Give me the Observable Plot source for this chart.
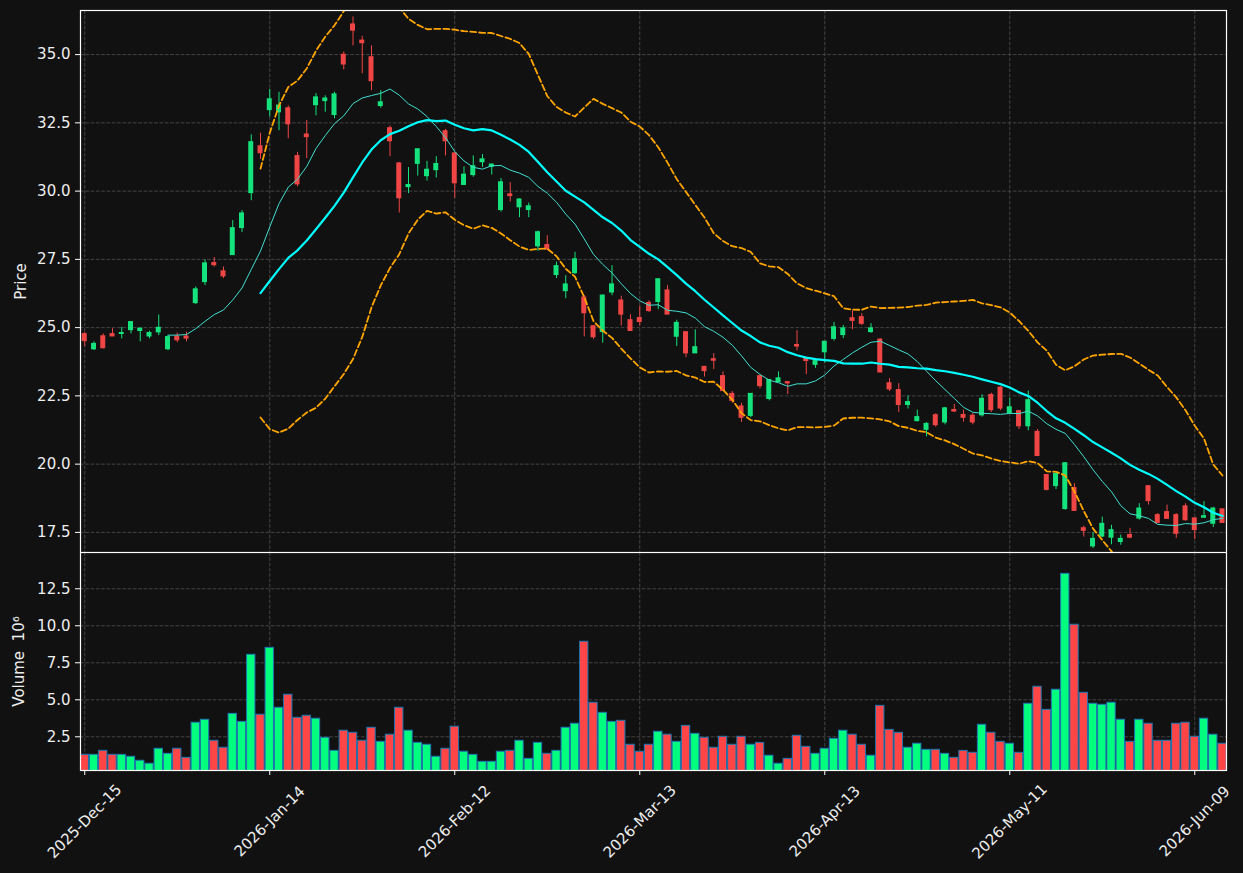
<!DOCTYPE html>
<html><head><meta charset="utf-8">
<script src="https://cdn.jsdelivr.net/npm/d3@7"></script>
<script src="https://cdn.jsdelivr.net/npm/@observablehq/plot@0.6"></script>
<style>
html,body{margin:0;padding:0;background:#111111;}
#chart{width:1243px;height:873px;background:#111111;overflow:hidden;}
#chart svg{display:block;}
</style></head><body><div id="chart"></div>
<script>
// Daily OHLC (trading-day index 0..123), volume in millions
const opens = [24.76,24.21,24.68,24.76,24.77,24.91,24.88,24.68,24.83,24.21,24.67,24.67,25.90,26.67,27.36,27.06,27.66,28.65,29.93,31.64,
32.97,32.89,33.03,31.28,32.07,33.15,33.30,32.79,34.99,36.10,35.51,34.90,33.12,32.30,31.01,30.15,31.00,30.55,30.77,32.19,
31.38,30.23,30.59,31.06,30.89,29.31,29.88,29.41,29.31,27.98,28.02,26.93,26.34,27.00,26.10,25.05,24.84,26.29,25.99,25.27,
25.35,25.90,25.94,26.36,24.67,24.83,24.06,23.56,23.84,23.22,22.57,22.11,21.77,23.22,22.39,23.00,23.00,24.36,23.87,23.64,
24.10,24.59,24.73,25.34,25.38,24.84,24.56,22.96,22.71,22.17,21.58,21.26,21.79,21.53,21.98,21.80,21.77,21.79,22.53,22.80,
21.87,21.94,21.39,21.18,19.60,19.20,18.36,19.12,17.65,16.99,17.35,17.31,17.15,17.40,18.01,19.19,18.13,18.24,18.13,18.45,
18.01,18.04,17.82,18.34];
const highs = [24.82,24.48,24.77,24.96,25.01,25.21,24.97,24.87,25.46,24.71,24.80,24.83,26.49,27.48,27.57,27.22,28.92,29.29,32.06,32.12,
33.73,33.62,33.12,31.42,32.59,33.57,33.49,33.62,35.10,36.38,35.67,35.32,33.68,32.39,31.05,30.86,31.53,31.09,31.26,32.26,
31.40,30.89,31.29,31.34,30.99,30.46,30.31,29.72,29.56,28.54,28.37,27.40,26.90,27.76,26.17,25.08,26.20,27.27,26.15,25.47,
25.79,25.98,26.77,26.54,25.27,24.85,24.92,23.58,24.05,23.38,22.66,22.23,22.57,23.24,23.08,23.38,23.03,24.89,23.89,23.83,
24.48,25.19,25.08,25.61,25.51,25.15,24.59,23.13,22.95,22.50,21.98,21.52,21.85,22.08,22.19,21.98,21.85,22.54,22.60,22.83,
22.41,21.96,22.68,21.27,19.62,19.64,20.06,19.29,17.73,17.50,18.06,17.76,17.40,17.65,18.55,19.21,18.19,18.50,18.19,18.55,
18.03,18.63,18.42,18.36];
const lows = [24.31,24.16,24.22,24.67,24.59,24.77,24.48,24.59,24.71,24.16,24.45,24.48,25.85,26.54,27.22,26.80,27.66,28.48,29.65,31.16,
32.72,32.21,31.92,30.16,31.19,32.76,32.89,32.65,34.44,35.32,34.30,33.68,33.04,31.26,29.20,29.91,30.55,30.37,30.48,31.29,
29.74,30.20,30.51,30.87,30.59,29.23,29.60,29.03,29.03,27.79,27.84,26.80,26.06,26.94,24.66,24.57,24.43,26.17,25.06,24.88,
25.07,25.56,25.66,25.48,24.31,23.90,24.06,23.19,23.46,22.68,22.23,21.53,21.70,22.76,22.32,23.00,22.55,24.15,23.28,23.51,
23.70,24.51,24.60,24.92,25.08,24.79,23.36,22.66,21.89,22.02,21.54,21.00,21.35,21.44,21.89,21.54,21.44,21.72,21.89,21.96,
21.87,21.27,21.22,20.30,19.02,19.07,18.31,18.29,17.33,16.91,17.31,17.05,17.03,17.27,17.95,18.50,17.85,18.00,17.28,17.91,
17.24,18.04,17.68,17.85];
const closes = [24.51,24.40,24.25,24.68,24.80,25.20,24.96,24.80,24.99,24.65,24.54,24.60,26.40,27.35,27.29,26.88,28.64,29.18,31.79,31.39,
33.36,33.13,32.45,30.25,31.98,33.43,33.39,33.54,34.64,35.88,35.42,34.03,33.25,31.83,29.74,30.22,31.53,30.78,30.99,31.83,
30.29,30.60,30.91,31.16,30.97,30.32,29.82,29.69,29.44,28.49,27.86,27.25,26.58,27.50,25.53,24.65,26.17,26.58,25.48,24.88,
25.21,25.61,26.77,25.48,25.17,24.06,24.28,23.41,23.79,22.68,22.32,21.70,22.57,22.86,23.08,23.14,22.96,24.31,23.78,23.77,
24.48,25.01,24.97,25.25,25.14,24.97,23.36,22.74,22.17,22.27,21.72,21.47,21.43,22.04,21.93,21.70,21.53,22.39,21.98,22.04,
22.08,21.39,22.34,20.30,19.06,19.64,20.03,18.29,17.56,17.26,17.81,17.58,17.26,17.31,18.37,18.65,17.85,18.00,17.45,17.95,
17.59,18.09,18.37,17.85];
const volumes = [1.28,1.28,1.55,1.28,1.28,1.15,0.88,0.68,1.69,1.35,1.69,1.08,3.45,3.65,2.23,1.76,4.05,3.51,8.04,3.99,
8.51,4.46,5.34,3.78,3.92,3.72,2.43,1.55,2.91,2.77,2.23,3.11,2.16,2.64,4.46,2.91,2.09,1.96,1.15,1.69,
3.18,1.49,1.28,0.81,0.81,1.49,1.55,2.23,1.01,2.09,1.35,1.55,3.11,3.38,8.92,4.80,4.12,3.51,3.58,1.96,
1.49,1.96,2.84,2.64,2.16,3.24,2.70,2.43,1.76,2.50,1.96,2.50,1.96,2.09,1.22,0.68,1.01,2.57,1.82,1.35,
1.69,2.36,2.91,2.64,1.96,1.22,4.59,2.97,2.77,1.76,2.03,1.62,1.62,1.35,1.08,1.55,1.42,3.31,2.77,2.16,
2.03,1.42,4.73,5.88,4.32,5.68,13.51,10.07,5.47,4.73,4.66,4.80,3.65,2.16,3.65,3.38,2.23,2.23,3.38,3.45,
2.50,3.72,2.64,2.03];
const tickIndex = [0, 20, 40, 60, 80, 100, 120];
const tickLabels = ["2025-Dec-15","2026-Jan-14","2026-Feb-12","2026-Mar-13","2026-Apr-13","2026-May-11","2026-Jun-09"];
const priceTicks = [17.5, 20.0, 22.5, 25.0, 27.5, 30.0, 32.5, 35.0];
const volumeTicks = [2.5, 5.0, 7.5, 10.0, 12.5];

const data = closes.map((c, i) => ({i, open: opens[i], high: highs[i], low: lows[i], close: c, volume: volumes[i]}));

const CANDLE_UP = "#14e27c", CANDLE_DOWN = "#f04545";
const VOL_UP = "#00ff7f", VOL_DOWN = "#ff4545";
const GRID = "#444444";
const TXT = "#eeeeee";
const FS = 15;
const up = d => d.close >= d.open;

const xDomain = [-0.46, 123.43];
const common = {
  width: 1243, marginLeft: 80, marginRight: 17,
  style: {background: "#111111", color: TXT, fontFamily: "'DejaVu Sans', sans-serif", fontSize: FS + "px"}
};
const gridStyle = {stroke: GRID, strokeOpacity: 1, strokeWidth: 1, strokeDasharray: "3.7,1.6"};

const meanStd = (v, s) => {
  const m = d3.mean(v);
  const sd = Math.sqrt(d3.mean(v, x => (x - m) * (x - m)));
  return m + s * 2 * sd;
};
const bbStyle = {stroke: "#ffa500", strokeWidth: 1.8, strokeDasharray: "6,3", clip: true};

const price = Plot.plot({
  ...common, height: 552, marginTop: 10, marginBottom: 0,
  x: {domain: xDomain, axis: null},
  y: {domain: [16.764, 36.615], axis: null},
  marks: [
    Plot.gridY(priceTicks, gridStyle),
    Plot.gridX(tickIndex, gridStyle),
    Plot.axisY(priceTicks, {tickFormat: d => d.toFixed(1), tickSize: 5, tickPadding: 5, label: null, stroke: "#ffffff", fill: TXT, fontSize: FS}),
    Plot.ruleX(data, {x: "i", y1: "low", y2: "high", stroke: d => up(d) ? CANDLE_UP : CANDLE_DOWN, strokeWidth: 1, clip: true}),
    Plot.rect(data, {x1: d => d.i - 0.27, x2: d => d.i + 0.27, y1: "open", y2: "close",
      fill: d => up(d) ? CANDLE_UP : CANDLE_DOWN, insetTop: -0.6, insetBottom: -0.6, clip: true}),
    Plot.lineY(data, Plot.windowY({k: 10, anchor: "end", strict: true, reduce: "mean"},
      {x: "i", y: "close", stroke: "#40e0d0", strokeWidth: 1, clip: true})),
    Plot.lineY(data, Plot.windowY({k: 20, anchor: "end", strict: true, reduce: "mean"},
      {x: "i", y: "close", stroke: "#00ffff", strokeWidth: 2.2, clip: true})),
    Plot.lineY(data, Plot.windowY({k: 20, anchor: "end", strict: true, reduce: v => meanStd(v, 1)},
      {x: "i", y: "close", ...bbStyle})),
    Plot.lineY(data, Plot.windowY({k: 20, anchor: "end", strict: true, reduce: v => meanStd(v, -1)},
      {x: "i", y: "close", ...bbStyle})),
    Plot.frame({stroke: "#ffffff", strokeWidth: 1.2}),
    Plot.text(["Price"], {frameAnchor: "left", dx: -59, rotate: -90, textAnchor: "middle", lineAnchor: "middle",
      text: d => d, fill: TXT, fontSize: FS})
  ]
});

const volume = Plot.plot({
  ...common, height: 321, marginTop: 0, marginBottom: 103,
  x: {domain: xDomain, axis: null},
  y: {domain: [0.223, 14.95], axis: null},
  marks: [
    Plot.gridY(volumeTicks, gridStyle),
    Plot.gridX(tickIndex, gridStyle),
    Plot.axisY(volumeTicks, {tickFormat: d => d.toFixed(1), tickSize: 5, tickPadding: 5, label: null, stroke: "#ffffff", fill: TXT, fontSize: FS}),
    Plot.axisX(tickIndex, {tickFormat: () => "", tickSize: 5, label: null, stroke: "#ffffff"}),
    Plot.rect(data, {x1: d => d.i - 0.45, x2: d => d.i + 0.45, y1: 0, y2: "volume",
      fill: d => up(d) ? VOL_UP : VOL_DOWN, stroke: "#1f77b4", strokeWidth: 1, clip: true}),
    Plot.frame({stroke: "#ffffff", strokeWidth: 1.2}),
    Plot.text(tickIndex, {x: d => d, frameAnchor: "bottom", dy: 51, rotate: -45, textAnchor: "middle", lineAnchor: "middle",
      text: (d, j) => tickLabels[j], fill: TXT, fontSize: FS}),
    Plot.text(["Volume  10\u2076"], {frameAnchor: "left", dx: -61, rotate: -90, textAnchor: "middle", lineAnchor: "middle",
      text: d => d, fill: TXT, fontSize: FS})
  ]
});

const root = document.getElementById("chart");
root.appendChild(price);
root.appendChild(volume);
</script>
</body></html>
